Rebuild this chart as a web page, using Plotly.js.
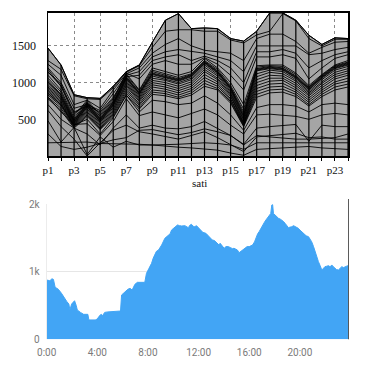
<!DOCTYPE html>
<html>
<head>
<meta charset="utf-8">
<script src="https://cdn.plot.ly/plotly-3.0.1.min.js"></script>
<style>html,body{margin:0;padding:0;background:#fff;}#chart{width:369px;height:365px;}</style>
</head>
<body>
<div id="chart"></div>
<script>
// ---------- top chart data (hours p1..p24) ----------
const hourCats = ['p1','p2','p3','p4','p5','p6','p7','p8','p9','p10','p11','p12','p13','p14','p15','p16','p17','p18','p19','p20','p21','p22','p23','p24'];
const hourTickLabels = ['p1','p3','p5','p7','p9','p11','p13','p15','p17','p19','p21','p23'];
const topTickVals = [500, 1000, 1500];
const topXTitle = 'sati';

const seriesTop = [1470,1240,835,795,785,950,1150,1240,1550,1850,1940,1735,1745,1735,1600,1565,1700,1950,1950,1850,1645,1520,1610,1600];
const seriesU1 = [1300,1180,820,780,770,930,1140,1230,1480,1700,1720,1720,1700,1700,1580,1540,1650,1700,1940,1840,1600,1500,1590,1590];
const seriesU2 = [1250,1100,700,760,650,900,1120,1200,1400,1520,1600,1500,1440,1420,1400,1300,1600,1660,1660,1560,1400,1480,1550,1560];
const seriesU3 = [1200,1000,650,700,620,850,1100,1150,1350,1420,1450,1420,1400,1350,1300,1150,1500,1500,1500,1500,1380,1400,1450,1480];
const seriesU4 = [1180,950,600,680,600,800,1080,1100,1300,1350,1380,1300,1360,1300,1200,1000,1420,1420,1450,1400,1200,1300,1380,1420];
const seriesU5 = [1140,980,580,720,580,780,1130,1050,1250,1300,1250,1250,1340,1250,1100,900,1350,1350,1380,1330,1050,1200,1330,1380];
const seriesB1 = [1150,950,550,760,560,760,1120,900,1200,1150,1100,1150,1330,1200,1000,700,1230,1240,1240,1130,960,1110,1240,1300];
const seriesB2 = [1100,900,520,740,540,740,1100,890,1170,1120,1070,1120,1300,1180,960,640,1210,1230,1220,1110,940,1100,1230,1280];
const seriesB3 = [1060,870,500,720,520,730,1080,870,1150,1100,1050,1110,1290,1160,940,600,1190,1220,1200,1090,930,1090,1220,1270];
const seriesB4 = [1030,840,490,710,510,720,1070,860,1130,1090,1040,1100,1280,1150,930,570,1180,1210,1190,1080,920,1080,1210,1260];
const seriesB5 = [1010,830,480,700,500,710,1060,850,1120,1080,1030,1090,1270,1140,920,550,1170,1200,1180,1070,910,1070,1200,1250];
const seriesB6 = [990,810,470,690,490,700,1050,840,1110,1070,1020,1080,1260,1130,910,530,1160,1190,1170,1060,900,1060,1190,1240];
const seriesB7 = [960,800,460,680,480,690,1030,820,1090,1050,1000,1060,1240,1110,890,510,1120,1170,1150,1040,880,1040,1170,1220];
const seriesB8 = [940,780,450,670,470,680,1010,800,1060,1030,980,1040,1210,1090,870,490,1080,1140,1120,1020,860,1010,1140,1190];
const seriesB9 = [920,760,440,660,460,660,990,780,1030,1000,950,1010,1180,1060,850,470,1040,1100,1090,990,840,990,1110,1160];
const seriesB10 = [900,740,430,640,440,640,970,760,1000,970,920,980,1150,1040,830,450,1000,1060,1060,960,820,960,1080,1130];
const seriesB11 = [880,720,420,620,420,620,950,740,970,940,890,950,1110,1010,810,440,960,1020,1030,930,790,930,1050,1100];
const seriesB12 = [860,700,410,600,400,600,920,710,940,910,860,920,1070,980,780,430,920,980,990,900,760,900,1010,1060];
const seriesB13 = [830,680,400,580,380,580,890,690,900,880,830,890,1030,950,760,420,880,940,950,870,730,870,980,1020];
const seriesB14 = [800,650,390,560,370,560,860,660,870,850,800,860,990,920,740,410,840,900,910,840,700,840,940,980];
const seriesB15 = [780,620,380,540,360,540,830,640,840,820,780,830,950,900,720,400,800,860,870,810,680,810,900,940];
const seriesL1 = [180,180,180,190,170,170,170,160,150,150,160,170,180,170,150,90,180,180,180,180,180,180,180,180];
const seriesL2 = [480,190,390,20,260,120,200,150,150,130,120,110,100,80,40,10,90,100,110,120,130,110,100,90];
const seriesL3 = [620,400,230,0,180,350,420,330,300,260,230,280,330,250,150,60,260,280,300,310,250,260,230,230];
const seriesL4 = [700,500,380,300,150,380,560,380,420,380,370,400,470,380,280,160,380,400,420,430,200,420,400,400];
const seriesL5 = [800,600,430,440,280,470,780,550,600,560,520,580,640,560,420,300,560,570,560,540,500,560,580,560];
const seriesL6 = [850,700,420,500,300,520,830,600,760,740,700,720,820,720,560,350,660,700,700,680,600,700,720,700];
const seriesL7 = [300,130,90,120,170,220,250,350,360,320,290,320,370,330,280,150,280,260,240,230,230,240,250,300];

const topSeries = [seriesTop, seriesU1, seriesU2, seriesU3, seriesU4, seriesU5,
  seriesB1, seriesB2, seriesB3, seriesB4, seriesB5, seriesB6, seriesB7, seriesB8,
  seriesB9, seriesB10, seriesB11, seriesB12, seriesB13, seriesB14, seriesB15,
  seriesL1, seriesL2, seriesL3, seriesL4, seriesL5, seriesL6, seriesL7];

// ---------- bottom chart data (minutes from midnight, value) ----------
const minutes = [0,15,25,32,40,55,70,85,95,105,110,118,125,132,140,145,160,175,195,200,230,240,248,258,265,275,290,320,350,355,370,385,395,405,418,430,465,473,485,497,505,513,520,530,545,560,575,585,592,600,608,620,630,640,655,665,671,680,686,695,702,710,722,732,740,755,765,770,785,795,802,812,817,822,830,841,850,860,872,880,888,898,904,912,920,928,940,950,960,968,976,985,991,1000,1007,1015,1023,1032,1039,1046,1054,1062,1067,1071,1075,1083,1090,1099,1108,1114,1123,1130,1140,1146,1155,1162,1170,1177,1185,1193,1200,1210,1217,1230,1241,1250,1256,1265,1272,1280,1288,1296,1304,1312,1319,1327,1336,1344,1351,1360,1367,1374,1383,1390,1399,1407,1414,1421,1428,1432];
const load = [876,866,895,885,770,740,680,600,560,520,433,520,555,570,500,433,398,369,369,286,286,300,340,369,350,398,405,410,418,655,704,740,753,728,812,842,842,975,1050,1123,1200,1271,1300,1320,1394,1493,1542,1560,1616,1640,1664,1690,1680,1675,1680,1660,1650,1690,1700,1670,1664,1680,1640,1600,1581,1566,1530,1517,1468,1460,1443,1420,1394,1420,1380,1345,1370,1370,1355,1340,1345,1330,1320,1280,1300,1320,1355,1370,1370,1380,1394,1440,1493,1560,1591,1640,1690,1730,1763,1790,1837,1860,1985,1990,1860,1837,1810,1788,1775,1763,1740,1714,1680,1650,1660,1664,1680,1670,1650,1640,1616,1590,1566,1530,1517,1480,1443,1370,1296,1220,1148,1090,1025,1050,1074,1080,1089,1070,1099,1070,1049,1030,1025,1050,1074,1060,1074,1080,1089,1089];
const timeTickVals = [0,240,480,720,960,1200];
const timeTickLabels = ['0:00','4:00','8:00','12:00','16:00','20:00'];
const loadTickVals = [0,1000,2000];
const loadTickLabels = ['0','1k','2k'];

// ---------- build traces ----------
const xIdx = hourCats.map((c, i) => i + 1);
const envelope = xIdx.map((_, i) => Math.max(...topSeries.map(s => s[i])));

const traces = [];
traces.push({
  x: xIdx, y: envelope, type: 'scatter', mode: 'lines', fill: 'tozeroy',
  fillcolor: '#a5a5a5', line: {color: '#000', width: 1}, xaxis: 'x', yaxis: 'y', hoverinfo: 'skip'
});
const vx = [], vy = [];
xIdx.forEach((x, i) => { vx.push(x, x, null); vy.push(0, envelope[i], null); });
traces.push({x: vx, y: vy, type: 'scatter', mode: 'lines', line: {color: '#000', width: 1.2}, xaxis: 'x', yaxis: 'y', hoverinfo: 'skip'});
topSeries.forEach(s => {
  traces.push({x: xIdx, y: s, type: 'scatter', mode: 'lines', line: {color: '#000', width: 0.9}, xaxis: 'x', yaxis: 'y', hoverinfo: 'skip'});
});
traces.push({
  x: minutes, y: load, type: 'scatter', mode: 'lines', fill: 'tozeroy',
  fillcolor: '#42a5f5', line: {color: '#42a5f5', width: 1}, xaxis: 'x2', yaxis: 'y2', hoverinfo: 'skip'
});

const serif = 'Liberation Serif, Times New Roman, serif';
const narrow = 'Liberation Sans Narrow, Arial Narrow, Roboto, sans-serif';

const layout = {
  width: 369, height: 365,
  margin: {l: 0, r: 0, t: 0, b: 0},
  paper_bgcolor: '#fff', plot_bgcolor: '#fff',
  showlegend: false,
  xaxis: {
    domain: [48/369, 348/369], range: [1, 24], anchor: 'y',
    tickmode: 'array', tickvals: hourTickLabels.map(l => hourCats.indexOf(l) + 1), ticktext: hourTickLabels,
    showgrid: true, gridcolor: '#8a8a8a', griddash: '3px,3px', gridwidth: 1,
    showline: true, mirror: true, linecolor: '#000', linewidth: 1.5,
    ticks: 'outside', ticklen: 3, tickcolor: '#000',
    minor: {ticks: 'outside', ticklen: 3, dtick: 1, tick0: 1, showgrid: false, tickcolor: '#000'},
    tickfont: {family: serif, size: 11, color: '#111'}, zeroline: false, fixedrange: true
  },
  yaxis: {
    domain: [(365-156)/365, (365-12.5)/365], range: [0, 1955], anchor: 'x',
    tickmode: 'array', tickvals: topTickVals, ticktext: topTickVals.map(String),
    showgrid: true, gridcolor: '#8a8a8a', griddash: '3px,3px', gridwidth: 1,
    showline: true, mirror: true, linecolor: '#000', linewidth: 1.5,
    ticks: '', ticklabelstandoff: 8,
    tickfont: {family: serif, size: 12, color: '#111'}, zeroline: false, fixedrange: true
  },
  xaxis2: {
    domain: [46.7/369, 349/369], range: [0, 1433], anchor: 'y2',
    tickmode: 'array', tickvals: timeTickVals, ticktext: timeTickLabels,
    showgrid: false, showline: false, ticks: '', zeroline: false, ticklabelstandoff: 6,
    tickfont: {family: narrow, size: 10, color: '#7a7a7a'}, fixedrange: true
  },
  yaxis2: {
    domain: [(365-339.3)/365, (365-204)/365], range: [0, 2000], anchor: 'x2',
    tickmode: 'array', tickvals: loadTickVals, ticktext: loadTickLabels,
    showgrid: true, gridcolor: '#e6e6e6', gridwidth: 1.5,
    showline: true, linecolor: '#ececec', linewidth: 1,
    ticks: '', ticklabelstandoff: 4, zeroline: false,
    tickfont: {family: narrow, size: 10, color: '#7a7a7a'}, fixedrange: true
  },
  shapes: [{
    type: 'line', xref: 'x2', yref: 'paper', x0: 1432, x1: 1432,
    y0: (365-339.3)/365, y1: (365-199)/365, line: {color: '#555', width: 1.5}
  }],
  annotations: [{
    text: topXTitle, xref: 'paper', yref: 'paper', x: 200/369, y: (365-183)/365,
    showarrow: false, font: {family: serif, size: 11, color: '#111'}, xanchor: 'center', yanchor: 'middle'
  }]
};

Plotly.newPlot('chart', traces, layout, {staticPlot: true, displayModeBar: false});
</script>
</body>
</html>
